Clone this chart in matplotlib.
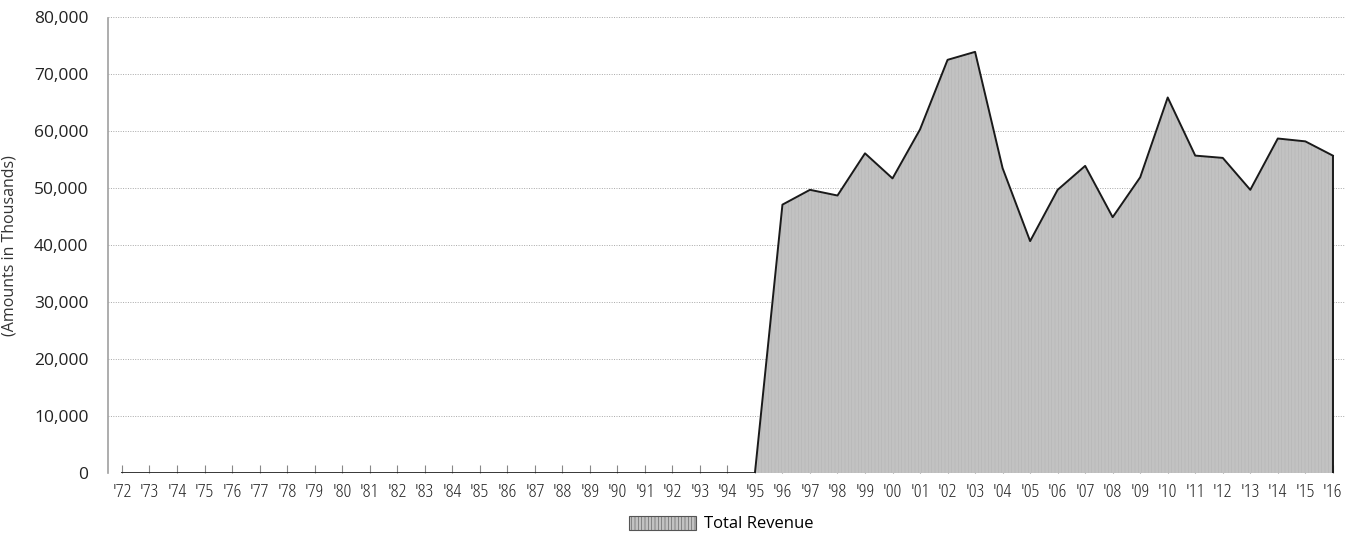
import matplotlib
matplotlib.use("Agg")
import matplotlib.pyplot as plt
from matplotlib.patches import Patch

# Data (amounts in thousands)
years = list(range(1972, 2017))
year_labels = ["'" + str(y)[2:] for y in years]
revenue = [0] * 24 + [
    47100, 49700, 48700, 56100, 51700, 60300, 72500, 73900, 53500, 40700,
    49700, 53900, 44900, 51900, 65900, 55700, 55300, 49700, 58700, 58200,
    55700,
]
y_ticks = [0, 10000, 20000, 30000, 40000, 50000, 60000, 70000, 80000]
series_name = "Total Revenue"

plt.rcParams["font.family"] = ["Open Sans", "DejaVu Sans"]
plt.rcParams["hatch.color"] = "#b4b4b4"
plt.rcParams["hatch.linewidth"] = 0.4

fig = plt.figure(figsize=(13.49, 5.34), dpi=100)
ax = fig.add_axes([0.080, 0.114, 0.917, 0.854])

# filled area with a faint vertical texture
ax.fill_between(years, revenue, 0, facecolor="#c2c2c2", hatch="|||||",
                linewidth=0, zorder=2)
ax.plot(years, revenue, color="#1a1a1a", linewidth=1.4, zorder=3)
ax.plot([years[-1], years[-1]], [0, revenue[-1]], color="#1a1a1a",
        linewidth=1.4, zorder=3)

ax.set_xlim(years[0] - 0.51, years[-1] + 0.44)
ax.set_ylim(0, 80000)

ax.set_yticks(y_ticks)
ax.set_yticklabels([f"{v:,}" for v in y_ticks], fontsize=12.5, color="#222222")
ax.yaxis.grid(True, linestyle=(0, (1, 1.5)), color="#a8a8a8", linewidth=0.7)
ax.set_axisbelow(True)
ax.tick_params(axis="y", length=0, pad=14)

ax.set_xticks(years)
ax.set_xticklabels(year_labels, fontsize=14, color="#222222",
                   fontstretch="condensed")
ax.tick_params(axis="x", direction="in", length=6, width=0.8,
               color="#888888", pad=7)

for side in ["top", "right", "bottom"]:
    ax.spines[side].set_visible(False)
ax.spines["left"].set_linestyle((0, (1, 1)))
ax.spines["left"].set_color("#a0a0a0")
ax.spines["left"].set_linewidth(1.2)

ax.set_ylabel("(Amounts in Thousands)", fontsize=11.5, color="#333333",
              labelpad=12)

handle = Patch(facecolor="#c2c2c2", hatch="|||||", edgecolor="#555555",
               linewidth=0.8)
fig.legend([handle], [series_name], loc="lower center",
           bbox_to_anchor=(0.535, -0.025), frameon=False, fontsize=12,
           handlelength=4.0, handleheight=0.9, handletextpad=0.5)

fig.savefig("out.png", dpi=100)
